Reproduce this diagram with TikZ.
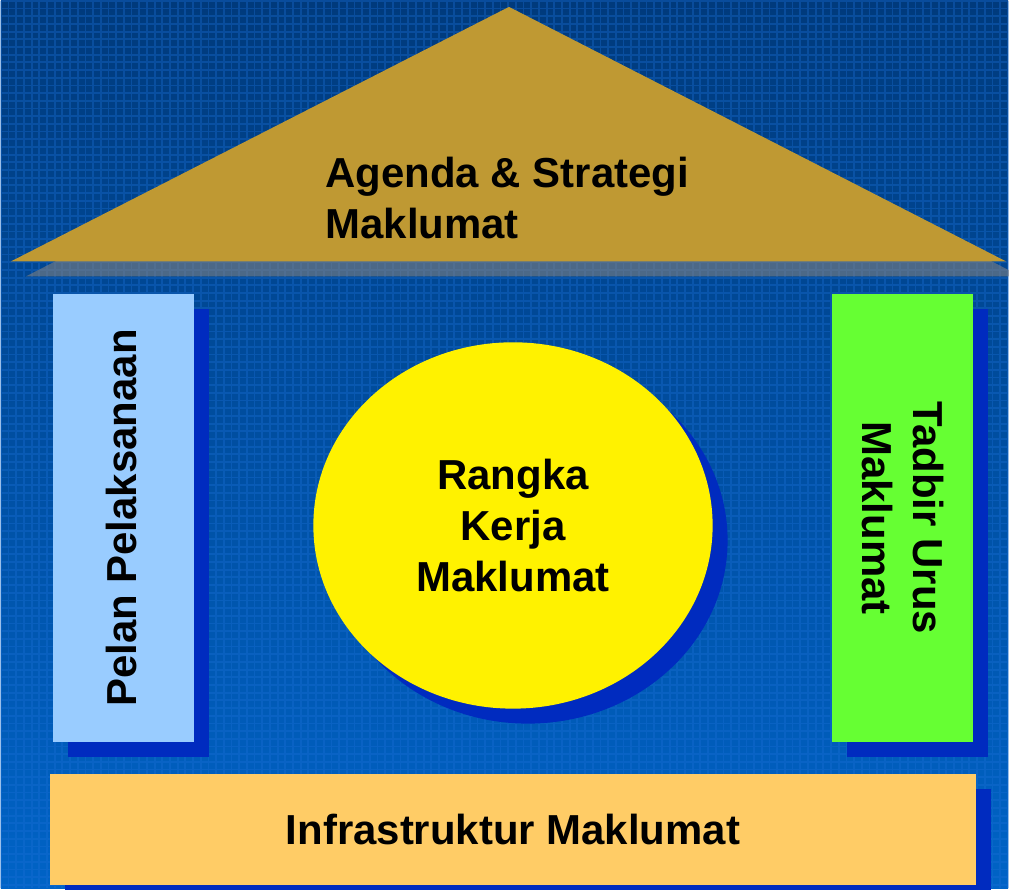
\documentclass[tikz,border=0pt]{standalone}
\usepackage{fontspec}
\setmainfont{Liberation Sans}
\usetikzlibrary{shapes.geometric,shadows}
\definecolor{bgtop}{HTML}{003A7C}
\definecolor{bgbot}{HTML}{0063C6}
\definecolor{gridblue}{HTML}{1A70D8}
\definecolor{shadeblue}{HTML}{002BBF}
\definecolor{roofgold}{HTML}{BF9933}
\definecolor{pelanblue}{HTML}{99CCFF}
\definecolor{tadbirgreen}{HTML}{66FF33}
\definecolor{infraorange}{HTML}{FFCC66}
\tikzset{
  txt/.style={font=\fontsize{42}{51}\selectfont\bfseries,text=black,align=center,inner sep=0pt},
  solidshadow/.style={drop shadow={shadow xshift=15pt,shadow yshift=-15pt,fill=shadeblue,opacity=1}},
  pillar/.style={minimum width=141pt,minimum height=448pt,inner sep=0pt,solidshadow}
}
\begin{document}
\begin{tikzpicture}[x=1pt,y=-1pt]
    \shade[top color=bgtop,bottom color=bgbot] (0,0) rectangle (1009,889);
    \draw[gridblue,opacity=0.35,line width=1.8pt,step=7.7pt] (0,0) grid (1009,889);
    \useasboundingbox (0,0) rectangle (1009,889);
    % bumbung
    \fill[gray,opacity=0.6] (25,276)--(524,21)--(1022,276)--cycle;
    \fill[roofgold] (10,261)--(509,6)--(1007,261)--cycle;
    \node[txt,align=left,anchor=north west] (agenda) at (325,156) {Agenda \& Strategi\\Maklumat};
    % tiang
    \node[pillar,fill=pelanblue] (pelan) at (122.5,518) {};
    \node[txt,rotate=90] at ([xshift=-2pt]pelan.center) {Pelan Pelaksanaan};
    \node[pillar,fill=tadbirgreen] (tadbir) at (903.5,518) {};
    \node[txt,rotate=-90] at (tadbir.center) {Tadbir Urus\\Maklumat};
    % bulatan
    \node[ellipse,txt,fill=yellow,minimum width=400pt,minimum height=367pt,solidshadow] (rangka) at (513,525.5) {Rangka\\Kerja\\Maklumat};
    % asas
    \node[txt,fill=infraorange,minimum width=928pt,minimum height=112pt,solidshadow] (infra) at (513,830) {Infrastruktur Maklumat};
\end{tikzpicture}
\end{document}
